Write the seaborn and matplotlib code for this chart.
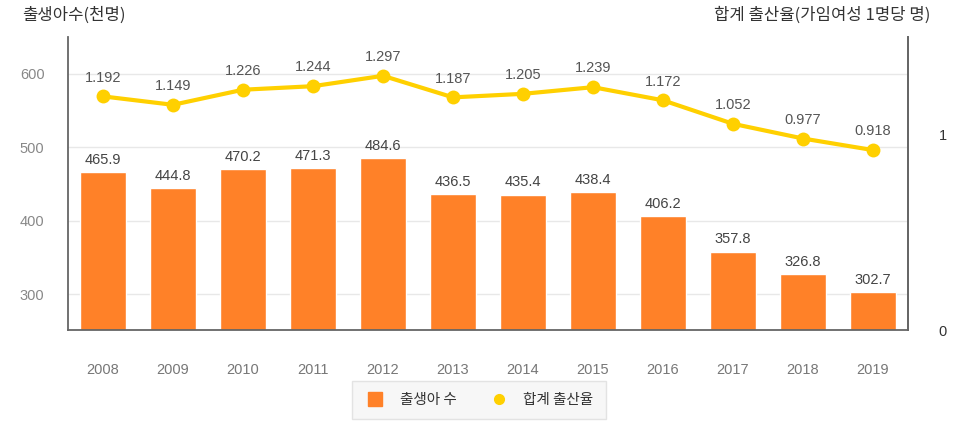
import matplotlib
matplotlib.use("Agg")
import matplotlib.pyplot as plt
import seaborn as sns
import pandas as pd
from matplotlib.lines import Line2D

years = ["2008", "2009", "2010", "2011", "2012", "2013", "2014", "2015", "2016", "2017", "2018", "2019"]
births = [465.9, 444.8, 470.2, 471.3, 484.6, 436.5, 435.4, 438.4, 406.2, 357.8, 326.8, 302.7]
fertility = [1.192, 1.149, 1.226, 1.244, 1.297, 1.187, 1.205, 1.239, 1.172, 1.052, 0.977, 0.918]
left_ticks = [300, 400, 500, 600]
right_ticks = [0, 1]

sns.set_theme(style="white")
plt.rcParams['font.family'] = ['Liberation Sans', 'Noto Sans CJK KR', 'DejaVu Sans']

df = pd.DataFrame({"year": years, "births": births, "fertility": fertility})

BAR = "#FF8128"
LINE = "#FFD000"
SPINE = "#666666"

fig = plt.figure(figsize=(9.63, 4.23), dpi=100)
ax = fig.add_axes([68/963, 1-330/423, 840/963, 293/423])

sns.barplot(data=df, x="year", y="births", color=BAR, width=0.67, ax=ax,
            saturation=1, zorder=2)
ax.set_ylim(251, 650)
ax.set_xlim(-0.5, len(years) - 0.5)
ax.set_yticks(left_ticks)
ax.yaxis.grid(True, color="#e8e8e8", linewidth=1, zorder=0)
ax.set_axisbelow(True)
ax.set_xlabel("")
ax.set_ylabel("")
ax.tick_params(axis="x", length=0, pad=24, labelsize=10.5, labelcolor="#777777")
ax.tick_params(axis="y", length=0, pad=17, labelsize=10.5, labelcolor="#888888")
for s in ["top"]:
    ax.spines[s].set_visible(False)
for s in ["left", "bottom", "right"]:
    ax.spines[s].set_color(SPINE)
    ax.spines[s].set_linewidth(1.3)

for i, v in enumerate(births):
    ax.text(i, v + 7, f"{v:.1f}", ha="center", va="bottom", fontsize=10.5, color="#444444")

ax2 = ax.twinx()
ax2.set_ylim(0, 1.495)
sns.lineplot(x=list(range(len(years))), y=fertility, ax=ax2, color=LINE, linewidth=3,
             marker="o", markersize=10, markeredgewidth=0, zorder=5)
ax2.set_yticks(right_ticks)
ax2.set_yticklabels(["0", "1"])
ax2.tick_params(axis="y", length=0, pad=22, labelsize=10.5, labelcolor="#333333")
for s in ["top", "left", "bottom"]:
    ax2.spines[s].set_visible(False)
ax2.spines["right"].set_color(SPINE)
ax2.spines["right"].set_linewidth(1.3)
ax2.set_ylabel("")

for i, v in enumerate(fertility):
    ax2.text(i, v + 0.06, f"{v:.3f}", ha="center", va="bottom", fontsize=10.5, color="#555555")

fig.text(22/963, 1-15/423, "출생아수(천명)", ha="left", va="center", fontsize=12, color="#333333",
         family=['Noto Sans CJK KR', 'DejaVu Sans'])
fig.text(930/963, 1-15/423, "합계 출산율(가임여성 1명당 명)", ha="right", va="center", fontsize=12, color="#333333",
         family=['Noto Sans CJK KR', 'DejaVu Sans'])

handles = [
    Line2D([0], [0], marker="s", linestyle="", color=BAR, markersize=10),
    Line2D([0], [0], marker="o", linestyle="", color=LINE, markersize=7),
]
leg = fig.legend(handles, ["출생아 수", "합계 출산율"], loc="center", bbox_to_anchor=(479/963, 1-400/423),
                 ncol=2, frameon=True, handletextpad=1.0, columnspacing=2.2,
                 handlelength=1.4, fancybox=False, borderpad=0.85,
                 prop={'family': ['Noto Sans CJK KR', 'DejaVu Sans'], 'size': 10.5})
leg.get_frame().set_facecolor("#f5f5f5")
leg.get_frame().set_edgecolor("#dddddd")
for t in leg.get_texts():
    t.set_color("#333333")

fig.savefig("out.png", dpi=100)
